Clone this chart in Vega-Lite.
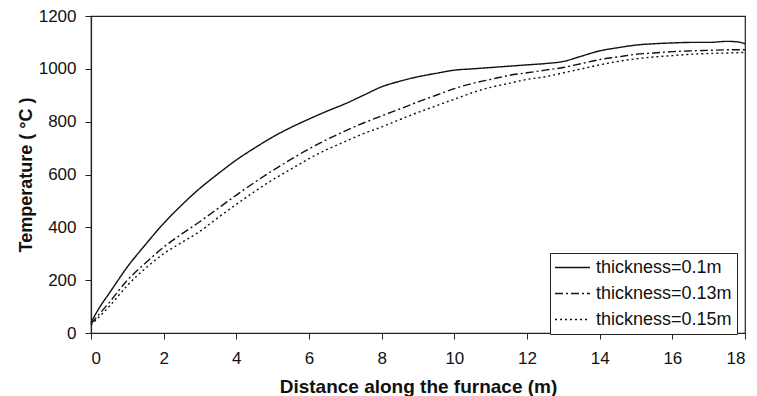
{
  "$schema": "https://vega.github.io/schema/vega-lite/v6.json",
  "width": 654,
  "height": 317,
  "autosize": "none",
  "padding": {"left": 91, "top": 16, "right": 12, "bottom": 63},
  "background": "white",
  "config": {
    "font": "Liberation Sans",
    "view": {"stroke": "#222", "strokeWidth": 1.2},
    "axis": {"grid": false, "domainColor": "#222", "tickColor": "#222", "labelColor": "#111", "titleColor": "#111", "labelFont": "Liberation Sans", "titleFont": "Liberation Sans", "labelFontSize": 17, "titleFontSize": 19, "titleFontWeight": "bold", "tickSize": 6, "domainWidth": 1.2, "format": "d"}
  },
  "data": {"values": [
    {"x":0,"T":40,"s":"thickness=0.1m"},{"x":0.25,"T":100,"s":"thickness=0.1m"},{"x":0.5,"T":150,"s":"thickness=0.1m"},{"x":1,"T":250,"s":"thickness=0.1m"},{"x":1.5,"T":335,"s":"thickness=0.1m"},{"x":2,"T":415,"s":"thickness=0.1m"},{"x":2.5,"T":485,"s":"thickness=0.1m"},{"x":3,"T":548,"s":"thickness=0.1m"},{"x":3.5,"T":603,"s":"thickness=0.1m"},{"x":4,"T":655,"s":"thickness=0.1m"},{"x":4.5,"T":700,"s":"thickness=0.1m"},{"x":5,"T":742,"s":"thickness=0.1m"},{"x":5.5,"T":778,"s":"thickness=0.1m"},{"x":6,"T":810,"s":"thickness=0.1m"},{"x":6.5,"T":840,"s":"thickness=0.1m"},{"x":7,"T":868,"s":"thickness=0.1m"},{"x":7.5,"T":900,"s":"thickness=0.1m"},{"x":8,"T":932,"s":"thickness=0.1m"},{"x":8.5,"T":953,"s":"thickness=0.1m"},{"x":9,"T":970,"s":"thickness=0.1m"},{"x":9.5,"T":983,"s":"thickness=0.1m"},{"x":10,"T":995,"s":"thickness=0.1m"},{"x":10.5,"T":1000,"s":"thickness=0.1m"},{"x":11,"T":1005,"s":"thickness=0.1m"},{"x":11.5,"T":1010,"s":"thickness=0.1m"},{"x":12,"T":1015,"s":"thickness=0.1m"},{"x":12.5,"T":1020,"s":"thickness=0.1m"},{"x":13,"T":1028,"s":"thickness=0.1m"},{"x":13.5,"T":1048,"s":"thickness=0.1m"},{"x":14,"T":1068,"s":"thickness=0.1m"},{"x":14.5,"T":1080,"s":"thickness=0.1m"},{"x":15,"T":1090,"s":"thickness=0.1m"},{"x":15.5,"T":1095,"s":"thickness=0.1m"},{"x":16,"T":1098,"s":"thickness=0.1m"},{"x":16.5,"T":1100,"s":"thickness=0.1m"},{"x":17,"T":1100,"s":"thickness=0.1m"},{"x":17.5,"T":1104,"s":"thickness=0.1m"},{"x":17.8,"T":1102,"s":"thickness=0.1m"},{"x":18,"T":1095,"s":"thickness=0.1m"},
    {"x":0,"T":35,"s":"thickness=0.13m"},{"x":0.25,"T":75,"s":"thickness=0.13m"},{"x":0.5,"T":115,"s":"thickness=0.13m"},{"x":1,"T":200,"s":"thickness=0.13m"},{"x":1.5,"T":265,"s":"thickness=0.13m"},{"x":2,"T":325,"s":"thickness=0.13m"},{"x":2.5,"T":375,"s":"thickness=0.13m"},{"x":3,"T":422,"s":"thickness=0.13m"},{"x":3.5,"T":472,"s":"thickness=0.13m"},{"x":4,"T":522,"s":"thickness=0.13m"},{"x":4.5,"T":570,"s":"thickness=0.13m"},{"x":5,"T":615,"s":"thickness=0.13m"},{"x":5.5,"T":657,"s":"thickness=0.13m"},{"x":6,"T":697,"s":"thickness=0.13m"},{"x":6.5,"T":733,"s":"thickness=0.13m"},{"x":7,"T":765,"s":"thickness=0.13m"},{"x":7.5,"T":795,"s":"thickness=0.13m"},{"x":8,"T":822,"s":"thickness=0.13m"},{"x":8.5,"T":848,"s":"thickness=0.13m"},{"x":9,"T":875,"s":"thickness=0.13m"},{"x":9.5,"T":900,"s":"thickness=0.13m"},{"x":10,"T":925,"s":"thickness=0.13m"},{"x":10.5,"T":945,"s":"thickness=0.13m"},{"x":11,"T":960,"s":"thickness=0.13m"},{"x":11.5,"T":975,"s":"thickness=0.13m"},{"x":12,"T":985,"s":"thickness=0.13m"},{"x":12.5,"T":995,"s":"thickness=0.13m"},{"x":13,"T":1005,"s":"thickness=0.13m"},{"x":13.5,"T":1020,"s":"thickness=0.13m"},{"x":14,"T":1035,"s":"thickness=0.13m"},{"x":14.5,"T":1045,"s":"thickness=0.13m"},{"x":15,"T":1055,"s":"thickness=0.13m"},{"x":15.5,"T":1060,"s":"thickness=0.13m"},{"x":16,"T":1065,"s":"thickness=0.13m"},{"x":16.5,"T":1068,"s":"thickness=0.13m"},{"x":17,"T":1070,"s":"thickness=0.13m"},{"x":17.5,"T":1072,"s":"thickness=0.13m"},{"x":18,"T":1072,"s":"thickness=0.13m"},
    {"x":0,"T":30,"s":"thickness=0.15m"},{"x":0.25,"T":65,"s":"thickness=0.15m"},{"x":0.5,"T":100,"s":"thickness=0.15m"},{"x":1,"T":180,"s":"thickness=0.15m"},{"x":1.5,"T":245,"s":"thickness=0.15m"},{"x":2,"T":300,"s":"thickness=0.15m"},{"x":2.5,"T":343,"s":"thickness=0.15m"},{"x":3,"T":385,"s":"thickness=0.15m"},{"x":3.5,"T":437,"s":"thickness=0.15m"},{"x":4,"T":487,"s":"thickness=0.15m"},{"x":4.5,"T":535,"s":"thickness=0.15m"},{"x":5,"T":580,"s":"thickness=0.15m"},{"x":5.5,"T":620,"s":"thickness=0.15m"},{"x":6,"T":660,"s":"thickness=0.15m"},{"x":6.5,"T":695,"s":"thickness=0.15m"},{"x":7,"T":725,"s":"thickness=0.15m"},{"x":7.5,"T":755,"s":"thickness=0.15m"},{"x":8,"T":780,"s":"thickness=0.15m"},{"x":8.5,"T":808,"s":"thickness=0.15m"},{"x":9,"T":835,"s":"thickness=0.15m"},{"x":9.5,"T":860,"s":"thickness=0.15m"},{"x":10,"T":885,"s":"thickness=0.15m"},{"x":10.5,"T":910,"s":"thickness=0.15m"},{"x":11,"T":930,"s":"thickness=0.15m"},{"x":11.5,"T":945,"s":"thickness=0.15m"},{"x":12,"T":960,"s":"thickness=0.15m"},{"x":12.5,"T":970,"s":"thickness=0.15m"},{"x":13,"T":985,"s":"thickness=0.15m"},{"x":13.5,"T":1000,"s":"thickness=0.15m"},{"x":14,"T":1015,"s":"thickness=0.15m"},{"x":14.5,"T":1028,"s":"thickness=0.15m"},{"x":15,"T":1038,"s":"thickness=0.15m"},{"x":15.5,"T":1045,"s":"thickness=0.15m"},{"x":16,"T":1050,"s":"thickness=0.15m"},{"x":16.5,"T":1055,"s":"thickness=0.15m"},{"x":17,"T":1058,"s":"thickness=0.15m"},{"x":17.5,"T":1060,"s":"thickness=0.15m"},{"x":18,"T":1062,"s":"thickness=0.15m"}
  ]},
  "mark": {"type": "line", "color": "#111", "strokeWidth": 1.4, "interpolate": "monotone"},
  "encoding": {
    "x": {"field": "x", "type": "quantitative", "scale": {"domain": [0, 18], "nice": false}, "axis": {"values": [0,2,4,6,8,10,12,14,16,18], "title": "Distance along the furnace (m)", "labelPadding": 11, "titlePadding": 11}},
    "y": {"field": "T", "type": "quantitative", "scale": {"domain": [0, 1200], "nice": false}, "axis": {"values": [0,200,400,600,800,1000,1200], "title": "Temperature ( °C )", "titleFontSize": 18, "labelPadding": 9, "titlePadding": 3}},
    "strokeDash": {"field": "s", "type": "nominal", "scale": {"domain": ["thickness=0.1m", "thickness=0.13m", "thickness=0.15m"], "range": [[1,0],[8,3,2,3],[2,3]]},
      "legend": {"orient": "none", "legendX": 459, "legendY": 237, "title": null, "strokeColor": "#222", "fillColor": "white", "padding": 5, "symbolType": "M-2.06,0H2.06", "symbolSize": 289, "symbolStrokeWidth": 1.3, "symbolStrokeColor": "#111", "labelFontSize": 18, "labelColor": "#111", "rowPadding": 7, "symbolOffset": 8, "labelOffset": 14}}
  }
}
